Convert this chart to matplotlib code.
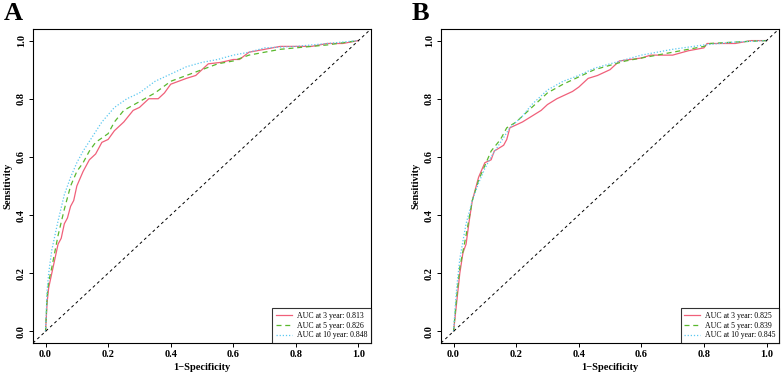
import matplotlib.pyplot as plt

plt.rcParams["font.family"] = ["Liberation Serif", "DejaVu Serif"]
plt.rcParams["font.weight"] = "bold"

# panel A
a_fpr_3y = [0, 0.005, 0.01, 0.02, 0.03, 0.04, 0.05, 0.06, 0.07, 0.08, 0.09, 0.1, 0.12, 0.14, 0.16,
            0.18, 0.2, 0.22, 0.25, 0.28, 0.3, 0.33, 0.36, 0.38, 0.4, 0.45, 0.48, 0.5, 0.52, 0.56,
            0.6, 0.62, 0.65, 0.7, 0.75, 0.85, 0.9, 0.95, 1.0]
a_tpr_3y = [0, 0.1, 0.15, 0.2, 0.25, 0.3, 0.32, 0.37, 0.39, 0.43, 0.45, 0.5, 0.55, 0.59, 0.61,
            0.65, 0.66, 0.69, 0.72, 0.76, 0.77, 0.8, 0.8, 0.82, 0.85, 0.87, 0.88, 0.9, 0.92, 0.925,
            0.935, 0.935, 0.96, 0.97, 0.98, 0.98, 0.99, 0.99, 1.0]
a_fpr_5y = [0, 0.005, 0.01, 0.02, 0.04, 0.06, 0.08, 0.1, 0.12, 0.14, 0.16, 0.2, 0.22, 0.25, 0.3,
            0.35, 0.4, 0.45, 0.5, 0.55, 0.6, 0.65, 0.7, 0.75, 0.8, 0.9, 1.0]
a_tpr_5y = [0, 0.12, 0.17, 0.22, 0.33, 0.42, 0.5, 0.55, 0.58, 0.62, 0.65, 0.68, 0.72, 0.76, 0.79,
            0.82, 0.86, 0.88, 0.9, 0.92, 0.93, 0.95, 0.96, 0.97, 0.975, 0.985, 1.0]
a_fpr_10y = [0, 0.005, 0.01, 0.02, 0.04, 0.06, 0.08, 0.1, 0.12, 0.15, 0.18, 0.22, 0.26, 0.3, 0.35,
             0.4, 0.45, 0.5, 0.55, 0.6, 0.65, 0.7, 0.8, 0.9, 1.0]
a_tpr_10y = [0, 0.14, 0.2, 0.28, 0.38, 0.47, 0.53, 0.58, 0.62, 0.67, 0.72, 0.77, 0.8, 0.82, 0.86,
             0.885, 0.91, 0.925, 0.935, 0.95, 0.96, 0.975, 0.98, 0.99, 1.0]

# panel B
b_fpr_3y = [0, 0.005, 0.01, 0.02, 0.03, 0.04, 0.05, 0.06, 0.07, 0.08, 0.1, 0.12, 0.13, 0.16, 0.17,
            0.18, 0.2, 0.22, 0.25, 0.28, 0.3, 0.33, 0.35, 0.38, 0.4, 0.43, 0.46, 0.5, 0.53, 0.6,
            0.63, 0.7, 0.75, 0.8, 0.81, 0.9, 0.95, 1.0]
b_tpr_3y = [0, 0.05, 0.1, 0.2, 0.27, 0.3, 0.38, 0.45, 0.49, 0.53, 0.58, 0.59, 0.62, 0.64, 0.66,
            0.7, 0.71, 0.72, 0.74, 0.76, 0.78, 0.8, 0.81, 0.825, 0.84, 0.87, 0.88, 0.9, 0.93, 0.94,
            0.95, 0.95, 0.965, 0.975, 0.99, 0.99, 1.0, 1.0]
b_fpr_5y = [0, 0.005, 0.01, 0.02, 0.04, 0.06, 0.08, 0.1, 0.12, 0.15, 0.17, 0.2, 0.25, 0.3, 0.35,
            0.4, 0.45, 0.5, 0.55, 0.6, 0.7, 0.75, 0.8, 0.82, 0.9, 1.0]
b_tpr_5y = [0, 0.06, 0.12, 0.22, 0.33, 0.45, 0.52, 0.57, 0.62, 0.66, 0.7, 0.72, 0.77, 0.82, 0.85,
            0.875, 0.9, 0.915, 0.93, 0.94, 0.96, 0.97, 0.98, 0.99, 0.995, 1.0]
b_fpr_10y = [0, 0.005, 0.01, 0.02, 0.04, 0.06, 0.08, 0.1, 0.12, 0.15, 0.18, 0.22, 0.25, 0.3, 0.35,
             0.4, 0.45, 0.5, 0.55, 0.6, 0.65, 0.7, 0.8, 0.9, 1.0]
b_tpr_10y = [0, 0.08, 0.15, 0.25, 0.37, 0.45, 0.51, 0.56, 0.6, 0.65, 0.7, 0.74, 0.78, 0.83, 0.86,
             0.88, 0.905, 0.92, 0.935, 0.95, 0.96, 0.97, 0.985, 0.995, 1.0]

labels_a = ["AUC at 3 year: 0.813", "AUC at 5 year: 0.826", "AUC at 10 year: 0.848"]
labels_b = ["AUC at 3 year: 0.825", "AUC at 5 year: 0.839", "AUC at 10 year: 0.845"]

colors = ["#F0607A", "#5AB82E", "#5CC8F0"]
styles = ["-", (0, (4, 3)), (0, (1, 1.5))]
ticks = [0.0, 0.2, 0.4, 0.6, 0.8, 1.0]


def draw_panel(ax, curves, labels, letter):
    for (fpr, tpr), lab, c, ls in zip(curves, labels, colors, styles):
        ax.plot(fpr, tpr, color=c, linestyle=ls, linewidth=0.9, label=lab)
    ax.plot([-0.04, 1.04], [-0.04, 1.04], color="black", linestyle=(0, (3, 3)), linewidth=0.7)
    ax.set_xlim(-0.04, 1.04)
    ax.set_ylim(-0.04, 1.04)
    ax.set_xticks(ticks)
    ax.set_yticks(ticks)
    ax.set_xticklabels([f"{t:.1f}" for t in ticks], fontsize=7.5, fontweight="bold")
    ax.set_yticklabels([f"{t:.1f}" for t in ticks], fontsize=7.5, fontweight="bold",
                       rotation=90, va="center")
    ax.tick_params(length=3, width=0.7, pad=2)
    ax.set_xlabel("1\u2212Specificity", fontsize=7.5, fontweight="bold", labelpad=3)
    ax.set_ylabel("Sensitivity", fontsize=7.5, fontweight="bold", labelpad=3)
    for s in ax.spines.values():
        s.set_linewidth(0.8)
    leg = ax.legend(loc="lower right", fontsize=5.6, frameon=True, fancybox=False,
                    edgecolor="black", handlelength=2.0, handletextpad=0.7,
                    borderaxespad=0, borderpad=0.45, labelspacing=0.25)
    leg.get_frame().set_linewidth(0.8)
    for t in leg.get_texts():
        t.set_fontweight("normal")
    ax.figure.text(ax.get_position().x0 - 0.038, 0.995, letter, fontsize=19,
                   fontweight="bold", va="top", ha="left")


fig = plt.figure(figsize=(7.81, 3.77), dpi=100)
ax_a = fig.add_axes([0.0423, 0.0902, 0.4327, 0.833])
ax_b = fig.add_axes([0.5647, 0.0902, 0.4328, 0.833])

draw_panel(ax_a, [(a_fpr_3y, a_tpr_3y), (a_fpr_5y, a_tpr_5y), (a_fpr_10y, a_tpr_10y)], labels_a, "A")
draw_panel(ax_b, [(b_fpr_3y, b_tpr_3y), (b_fpr_5y, b_tpr_5y), (b_fpr_10y, b_tpr_10y)], labels_b, "B")

fig.savefig("out.png", dpi=100)
